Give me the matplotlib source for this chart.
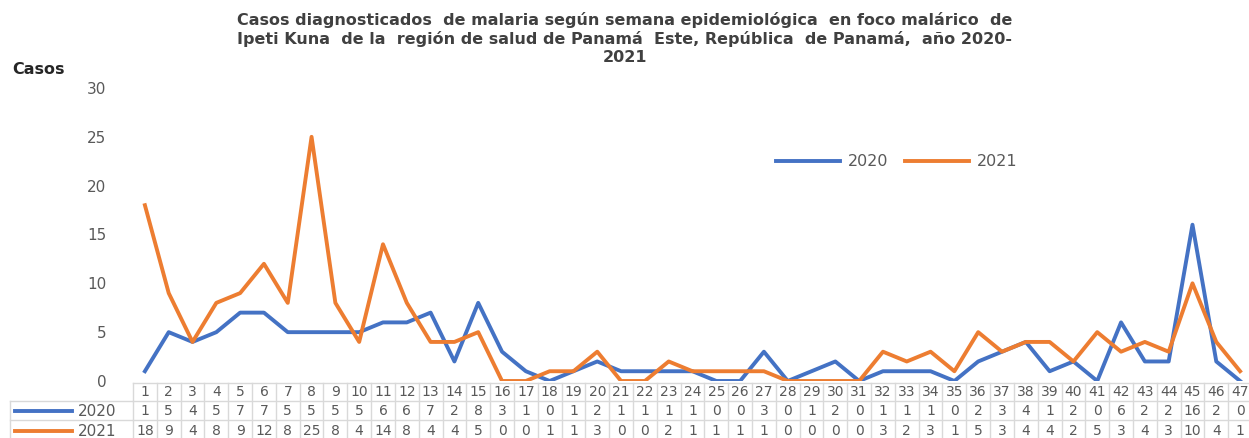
import numpy as np
import matplotlib
matplotlib.use("Agg")
import matplotlib.pyplot as plt
from matplotlib.lines import Line2D

# Datos: casos de malaria por semana epidemiológica
semanas = list(range(1, 48))
casos_2020 = [1, 5, 4, 5, 7, 7, 5, 5, 5, 5, 6, 6, 7, 2, 8, 3, 1, 0, 1, 2,
              1, 1, 1, 1, 0, 0, 3, 0, 1, 2, 0, 1, 1, 1, 0, 2, 3, 4, 1, 2,
              0, 6, 2, 2, 16, 2, 0]
casos_2021 = [18, 9, 4, 8, 9, 12, 8, 25, 8, 4, 14, 8, 4, 4, 5, 0, 0, 1, 1, 3,
              0, 0, 2, 1, 1, 1, 1, 0, 0, 0, 0, 3, 2, 3, 1, 5, 3, 4, 4, 2,
              5, 3, 4, 3, 10, 4, 1]
y_ticks = [0, 5, 10, 15, 20, 25, 30]

titulo = ("Casos diagnosticados  de malaria según semana epidemiológica  en foco malárico  de\n"
          "Ipeti Kuna  de la  región de salud de Panamá  Este, República  de Panamá,  año 2020-\n"
          "2021")

azul = "#4472C4"
naranja = "#ED7D31"
gris = "#595959"
borde = "#D9D9D9"

W, H = 1249, 438
fig = plt.figure(figsize=(W / 100, H / 100), dpi=100)

# posicion del area de trazado en pixeles
left_px, right_px, top_px, bot_px = 133, 1252, 88, 381
ax = fig.add_axes([left_px / W, 1 - bot_px / H, (right_px - left_px) / W, (bot_px - top_px) / H])

ax.plot(semanas, casos_2020, color=azul, lw=2.8, solid_joinstyle="round")
ax.plot(semanas, casos_2021, color=naranja, lw=2.8, solid_joinstyle="round")

ax.set_xlim(0.5, 47.5)
ax.set_ylim(0, 30)
ax.set_yticks(y_ticks)
ax.tick_params(axis="y", length=0, labelsize=11, labelcolor=gris, pad=19)
ax.set_xticks([])
for s in ax.spines.values():
    s.set_visible(False)


def yfr(py):
    return (bot_px - py) / (bot_px - top_px)


trans = ax.get_xaxis_transform()

# Tabla de datos
y_lines = [383, 401, 420, 441]
for py in y_lines:
    ax.plot([0.5, 47.5], [yfr(py)] * 2, transform=trans, color=borde, lw=1, clip_on=False)
for i in range(48):
    ax.plot([i + 0.5] * 2, [yfr(383), yfr(441)], transform=trans, color=borde, lw=1, clip_on=False)

# columna de leyenda de la tabla
fx = lambda px: px / W
fy = lambda py: 1 - py / H
for py in [401, 420, 441]:
    fig.add_artist(Line2D([fx(10), fx(133)], [fy(py)] * 2, color=borde, lw=1))
fig.add_artist(Line2D([fx(10)] * 2, [fy(401), fy(441)], color=borde, lw=1))

for k, (lab, col, vals) in enumerate([("2020", azul, casos_2020), ("2021", naranja, casos_2021)]):
    py = 411 + k * 20
    fig.add_artist(Line2D([fx(15), fx(72)], [fy(py)] * 2, color=col, lw=2.8))
    fig.text(fx(78), fy(py), lab, color=gris, fontsize=11, va="center", ha="left")
    for s, v in zip(semanas, vals):
        ax.text(s, yfr(py), str(v), transform=trans, ha="center", va="center",
                fontsize=10, color=gris, clip_on=False)
for s in semanas:
    ax.text(s, yfr(392), str(s), transform=trans, ha="center", va="center",
            fontsize=10, color=gris, clip_on=False)

# Leyenda
ax.legend([Line2D([], [], color=azul, lw=2.8), Line2D([], [], color=naranja, lw=2.8)],
          ["2020", "2021"], loc="upper left", bbox_to_anchor=((770 - left_px) / (right_px - left_px), yfr(148)),
          ncol=2, frameon=False, fontsize=11.5, labelcolor=gris, handlelength=4,
          columnspacing=1.0, handletextpad=0.5, borderaxespad=0)

fig.text(0.5, fy(12), titulo, ha="center", va="top", fontsize=11.5, fontweight="bold",
         color="#404040", linespacing=1.25)
fig.text(fx(12), fy(70), "Casos", ha="left", va="center", fontsize=11.5, fontweight="bold",
         color="#262626")

fig.savefig("out.png", dpi=100)
